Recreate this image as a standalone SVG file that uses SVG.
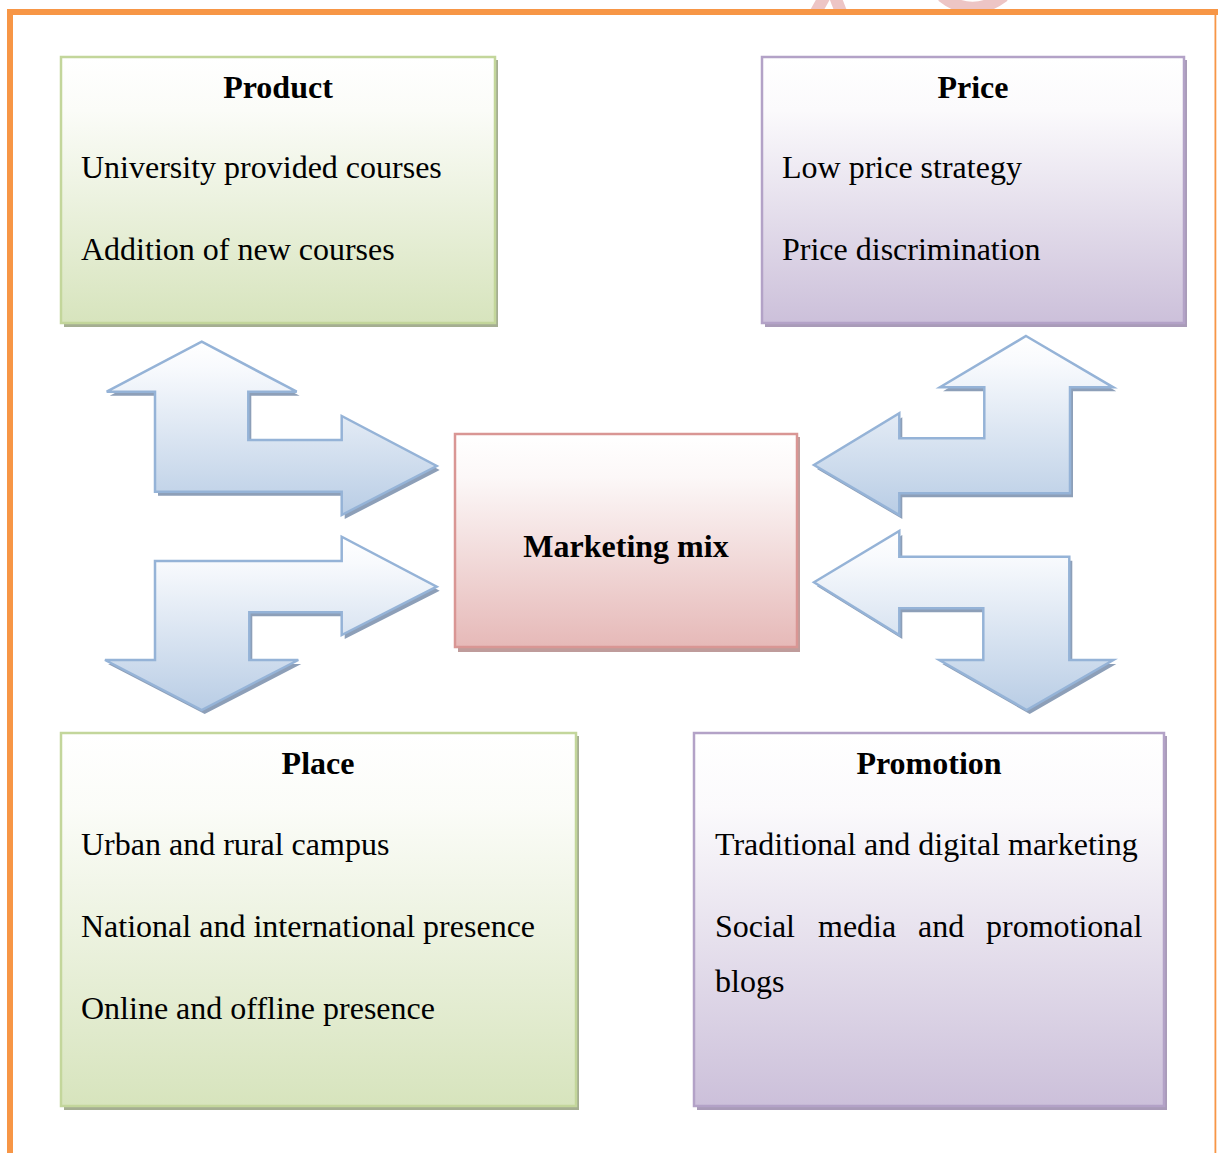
<svg xmlns="http://www.w3.org/2000/svg" width="1218" height="1153" viewBox="0 0 1218 1153">
  <defs>
    <linearGradient id="gGreen" x1="0" y1="0" x2="0" y2="1">
      <stop offset="0" stop-color="#ffffff"/>
      <stop offset="0.2" stop-color="#fbfcf8"/>
      <stop offset="1" stop-color="#d7e4bd"/>
    </linearGradient>
    <linearGradient id="gPurple" x1="0" y1="0" x2="0" y2="1">
      <stop offset="0" stop-color="#ffffff"/>
      <stop offset="0.2" stop-color="#fbfafc"/>
      <stop offset="1" stop-color="#ccc0da"/>
    </linearGradient>
    <linearGradient id="gPink" x1="0" y1="0" x2="0" y2="1">
      <stop offset="0" stop-color="#ffffff"/>
      <stop offset="0.2" stop-color="#fcf8f8"/>
      <stop offset="1" stop-color="#e6b9b8"/>
    </linearGradient>
    <linearGradient id="gBlue" x1="0" y1="0" x2="0" y2="1">
      <stop offset="0" stop-color="#ffffff"/>
      <stop offset="0.15" stop-color="#f8fafd"/>
      <stop offset="1" stop-color="#b9cde5"/>
    </linearGradient>
    <clipPath id="topStrip">
      <rect x="0" y="0" width="1218" height="10"/>
    </clipPath>
    <style>
      .t { font-family: "Liberation Serif", "Times New Roman", serif; font-size: 32px; fill: #000; }
      .b { font-weight: bold; text-anchor: middle; }
      .green { fill: url(#gGreen); stroke: #c3d69b; stroke-width: 2.5; }
      .purple { fill: url(#gPurple); stroke: #b3a2c7; stroke-width: 2.5; }
      .pink { fill: url(#gPink); stroke: #d99694; stroke-width: 2.5; }
      .shG { fill: #a5ae92; }
      .shP { fill: #a99bb8; }
      .shK { fill: #bf9c9b; }
      .arrow { fill: url(#gBlue); stroke: #95b3d7; stroke-width: 2.5; stroke-linejoin: miter; }
      .arrowSh { fill: #8d9fb8; }
    </style>
  </defs>

  <rect width="1218" height="1153" fill="#ffffff"/>

  <!-- faint pink mark peeking above the frame -->
  <g clip-path="url(#topStrip)" fill="none" stroke="#edc5c5" stroke-width="12">
    <path d="M 816 12 L 826 -6"/>
    <path d="M 841 12 L 834 -6"/>
    <path d="M 942 -4 Q 972 20 1004 -4"/>
  </g>

  <!-- page frame -->
  <g id="frame" fill="#f79646">
    <rect x="7" y="9" width="1211" height="6"/>
    <rect x="7" y="9" width="6" height="1144"/>
    <rect x="1214.5" y="9" width="1.8" height="1144"/>
  </g>

  <!-- connectors: bent double arrows between the centre and the four boxes -->
  <g id="connectors">
    <g id="arrow-product">
      <polygon class="arrowSh" transform="translate(3,4)" points="201.7,341.7 296.7,391.7 248.3,391.7 248.3,440 341.7,440 341.7,416 436.7,466 341.7,515 341.7,491.7 155,491.7 155,391.7 106.7,391.7"/>
      <polygon class="arrow" points="201.7,341.7 296.7,391.7 248.3,391.7 248.3,440 341.7,440 341.7,416 436.7,466 341.7,515 341.7,491.7 155,491.7 155,391.7 106.7,391.7"/>
    </g>
    <g id="arrow-place">
      <polygon class="arrowSh" transform="translate(3,4)" points="155,561 341.7,561 341.7,536.7 436.7,586.7 341.7,635 341.7,612.3 249.3,612.3 249.3,660 298.3,660 201.7,710 105,660 155,660"/>
      <polygon class="arrow" points="155,561 341.7,561 341.7,536.7 436.7,586.7 341.7,635 341.7,612.3 249.3,612.3 249.3,660 298.3,660 201.7,710 105,660 155,660"/>
    </g>
    <g id="arrow-price">
      <polygon class="arrowSh" transform="translate(3,4)" points="1026,336 1113.3,387.3 1070,387.3 1070,493.3 899.3,493.3 899.3,515 814,465 899.3,413.3 899.3,438.3 984.3,438.3 984.3,387.3 940,387.3"/>
      <polygon class="arrow" points="1026,336 1113.3,387.3 1070,387.3 1070,493.3 899.3,493.3 899.3,515 814,465 899.3,413.3 899.3,438.3 984.3,438.3 984.3,387.3 940,387.3"/>
    </g>
    <g id="arrow-promotion">
      <polygon class="arrowSh" transform="translate(3,4)" points="814,582.3 899.3,531 899.3,556.7 1069.3,556.7 1069.3,660 1113.3,660 1026.7,710 939.3,660 983.3,660 983.3,608.3 899.3,608.3 899.3,635"/>
      <polygon class="arrow" points="814,582.3 899.3,531 899.3,556.7 1069.3,556.7 1069.3,660 1113.3,660 1026.7,710 939.3,660 983.3,660 983.3,608.3 899.3,608.3 899.3,635"/>
    </g>
  </g>

  <!-- Product -->
  <g id="product">
    <rect class="shG" x="64" y="60" width="434" height="267"/>
    <rect class="green" x="61" y="57" width="434" height="266"/>
    <text class="t b" x="278" y="98">Product</text>
    <text class="t" x="81" y="178">University provided courses</text>
    <text class="t" x="81" y="260">Addition of new courses</text>
  </g>

  <!-- Price -->
  <g id="price">
    <rect class="shP" x="765" y="60" width="422" height="267"/>
    <rect class="purple" x="762" y="57" width="422" height="266"/>
    <text class="t b" x="973" y="98">Price</text>
    <text class="t" x="782" y="178">Low price strategy</text>
    <text class="t" x="782" y="260">Price discrimination</text>
  </g>

  <!-- Marketing mix -->
  <g id="marketing-mix">
    <rect class="shK" x="458" y="437" width="342" height="215"/>
    <rect class="pink" x="455" y="434" width="342" height="213"/>
    <text class="t b" x="626" y="557">Marketing mix</text>
  </g>

  <!-- Place -->
  <g id="place">
    <rect class="shG" x="64" y="736" width="515" height="374"/>
    <rect class="green" x="61" y="733" width="515" height="373"/>
    <text class="t b" x="318" y="774">Place</text>
    <text class="t" x="81" y="855">Urban and rural campus</text>
    <text class="t" x="81" y="937">National and international presence</text>
    <text class="t" x="81" y="1019">Online and offline presence</text>
  </g>

  <!-- Promotion -->
  <g id="promotion">
    <rect class="shP" x="697" y="736" width="470" height="374"/>
    <rect class="purple" x="694" y="733" width="470" height="373"/>
    <text class="t b" x="929" y="774">Promotion</text>
    <text class="t" x="715" y="855">Traditional and digital marketing</text>
    <text class="t" y="937"><tspan x="715">Social</tspan><tspan x="818">media</tspan><tspan x="918">and</tspan><tspan x="986">promotional</tspan></text>
    <text class="t" x="715" y="992">blogs</text>
  </g>
</svg>
